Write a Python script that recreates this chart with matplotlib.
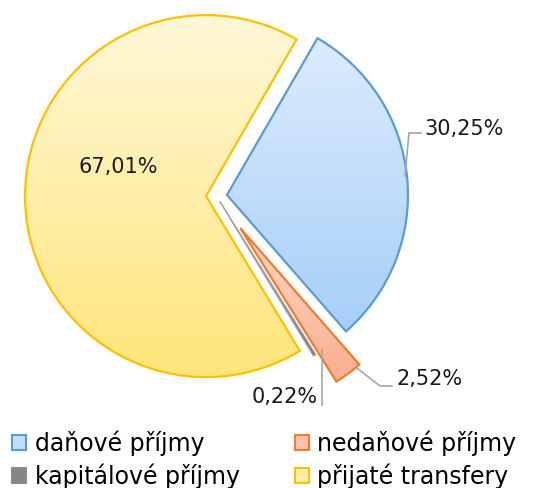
import numpy as np
import matplotlib
matplotlib.use("Agg")
import matplotlib.pyplot as plt
from matplotlib.patches import Patch
from matplotlib.colors import LinearSegmentedColormap

categories = ["daňové příjmy", "nedaňové příjmy", "kapitálové příjmy", "přijaté transfery"]
values = [30.25, 2.52, 0.22, 67.01]
labels = ["30,25%", "2,52%", "0,22%", "67,01%"]

edge_colors = ["#5B9BD5", "#ED7D31", "#8C8C8C", "#FFC000"]
top_colors = ["#DDECFC", "#FCD9CA", "#9A9A9A", "#FFF8D8"]
bottom_colors = ["#A6CFF8", "#F8AE8C", "#707070", "#FFE57A"]
legend_fill = ["#C3DEFA", "#FAC2A8", "#858585", "#FFEEA8"]

W, H = 553, 488
R = 181
explode = [10.5, 40, 6, 10.5]  # in pixels (data units)

fig = plt.figure(figsize=(W / 100, H / 100), dpi=100)
ax = fig.add_axes([0, 0, 1, 1])
plt.rcParams['font.family'] = ['DejaVu Sans']

cx, cy = 216.5, H - 196
wedges, _ = ax.pie(values, radius=R, center=(cx, cy), startangle=60, counterclock=False,
                   explode=explode, frame=True,
                   wedgeprops=dict(linewidth=1.6))
ax.set_xlim(0, W)
ax.set_ylim(0, H)
ax.set_aspect('equal')
ax.axis('off')

for w, ec, tc, bc in zip(wedges, edge_colors, top_colors, bottom_colors):
    w.set_edgecolor(ec)
    w.set_facecolor('none')
    w.set_zorder(3)
    ext = w.get_path().get_extents(w.get_patch_transform())
    cmap = LinearSegmentedColormap.from_list("g", [bc, tc])
    grad = np.linspace(0, 1, 256).reshape(-1, 1)
    im = ax.imshow(grad, cmap=cmap, origin='lower', aspect='auto',
                   extent=[ext.x0, ext.x1, ext.y0, ext.y1], zorder=2, interpolation='bicubic')
    im.set_clip_path(w)
wedges[2].set_linewidth(1.0)
wedges[2].set_edgecolor("#A0A0A0")
ax.set_xlim(0, W)
ax.set_ylim(0, H)

fs = 15
gray = "#A6A6A6"
tc_ = '#1a1a1a'
ax.text(118, H - 167, labels[3], ha='center', va='center', fontsize=fs, color=tc_, zorder=5)
ax.plot([405, 409, 421], [H - 176, H - 133, H - 133], color=gray, lw=1.2, zorder=4)
ax.text(424, H - 129, labels[0], ha='left', va='center', fontsize=fs, color=tc_, zorder=5)
ax.plot([357, 380, 392], [H - 368, H - 386, H - 386], color=gray, lw=1.2, zorder=4)
ax.text(396, H - 379, labels[1], ha='left', va='center', fontsize=fs, color=tc_, zorder=5)
ax.plot([322, 322], [H - 350, H - 405], color=gray, lw=1.2, zorder=4)
ax.text(318, H - 397, labels[2], ha='right', va='center', fontsize=fs, color=tc_, zorder=5)

handles = [Patch(facecolor=f, edgecolor=e, linewidth=1.5) for f, e in zip(legend_fill, edge_colors)]
order = [0, 2, 1, 3]
fig.legend([handles[i] for i in order], [categories[i] for i in order], ncol=2,
           loc='lower left', bbox_to_anchor=(-0.008, -0.035), frameon=False,
           fontsize=17, handlelength=0.6, handleheight=0.6, handletextpad=0.35,
           columnspacing=2.35, labelspacing=0.3, borderpad=0.2)

fig.savefig("out.png", dpi=100)
